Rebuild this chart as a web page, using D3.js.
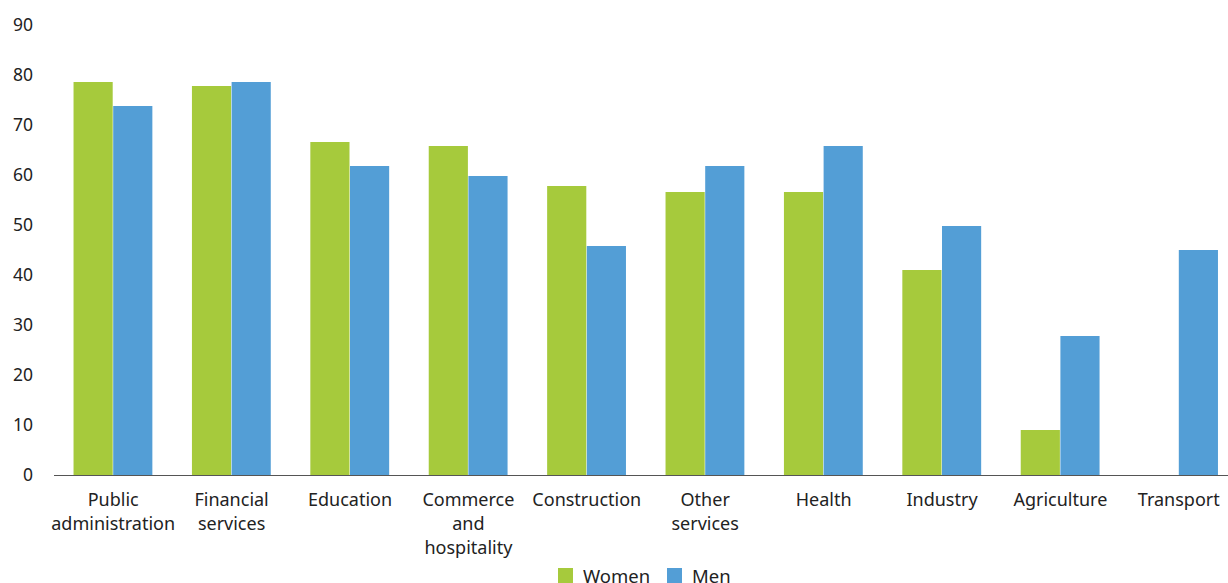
<!DOCTYPE html>
<html><head><meta charset="utf-8">
<script src="https://cdn.jsdelivr.net/npm/d3@7"></script>
<style>body{margin:0;background:#fff;} text{font-family:"Noto Sans",sans-serif;fill:#222;}</style>
</head><body>
<svg id="c" width="1228" height="583"></svg>
<script>
(function(){
const categories = ["Public administration","Financial services","Education","Commerce and hospitality","Construction","Other services","Health","Industry","Agriculture","Transport"];
const labelLines = [["Public","administration"],["Financial","services"],["Education"],["Commerce","and","hospitality"],["Construction"],["Other","services"],["Health"],["Industry"],["Agriculture"],["Transport"]];
const seriesNames = ["Women","Men"];
const women = [78.6,77.8,66.6,65.8,57.8,56.6,56.6,41,9,0];
const men = [73.8,78.6,61.8,59.8,45.8,61.8,65.8,49.8,27.8,45];
const yTicks = [0,10,20,30,40,50,60,70,80,90];
const colors = ["#a6ca3c","#539ed6"];

const svg = d3.select("#c");
const mLeft = 54, mRight = 1238, mTop = 25, mBottom = 475;
const x0 = d3.scaleBand().domain(categories).range([mLeft,mRight]).paddingInner(0.33).paddingOuter(0.165);
const x1 = d3.scaleBand().domain(seriesNames).range([0,x0.bandwidth()]);
const y = d3.scaleLinear().domain([0,90]).range([mBottom,mTop]);

const yAxis = svg.append("g").attr("transform",`translate(${mLeft},0)`)
  .call(d3.axisLeft(y).tickValues(yTicks).tickSize(0).tickPadding(21));
yAxis.select(".domain").remove();
yAxis.selectAll("text").style("font-size","17.5px").style("font-family","'Noto Sans',sans-serif").attr("fill","#222");

const data = categories.map((c,i)=>({c, vals:[women[i],men[i]]}));
const g = svg.append("g").selectAll("g").data(data).join("g").attr("transform",d=>`translate(${x0(d.c)},0)`);
g.selectAll("rect").data(d=>d.vals.map((v,j)=>({s:seriesNames[j],v,j}))).join("rect")
  .attr("x",d=>x1(d.s)).attr("width",x1.bandwidth()-0.5)
  .attr("y",d=>y(d.v)).attr("height",d=>y(0)-y(d.v)).attr("fill",d=>colors[d.j]);

svg.append("line").attr("x1",mLeft).attr("x2",mRight).attr("y1",y(0)+0.5).attr("y2",y(0)+0.5).attr("stroke","#555").attr("stroke-width",1);

const lab = svg.append("g").selectAll("text").data(categories).join("text")
  .attr("x",d=>x0(d)+x0.bandwidth()/2).attr("y",y(0)+31).attr("text-anchor","middle").style("font-size","18px");
lab.each(function(d,i){
  const t=d3.select(this);
  labelLines[i].forEach((l,k)=>t.append("tspan").attr("x",x0(d)+x0.bandwidth()/2).attr("dy",k?24:0).text(l));
});

const lg = svg.append("g").attr("transform","translate(558,568)");
seriesNames.forEach((s,i)=>{
  const off = i===0?0:109;
  lg.append("rect").attr("x",off).attr("y",0).attr("width",15).attr("height",15).attr("fill",colors[i]);
  lg.append("text").attr("x",off+25).attr("y",15).style("font-size","18.5px").text(s);
});
})();
</script>
</body></html>
